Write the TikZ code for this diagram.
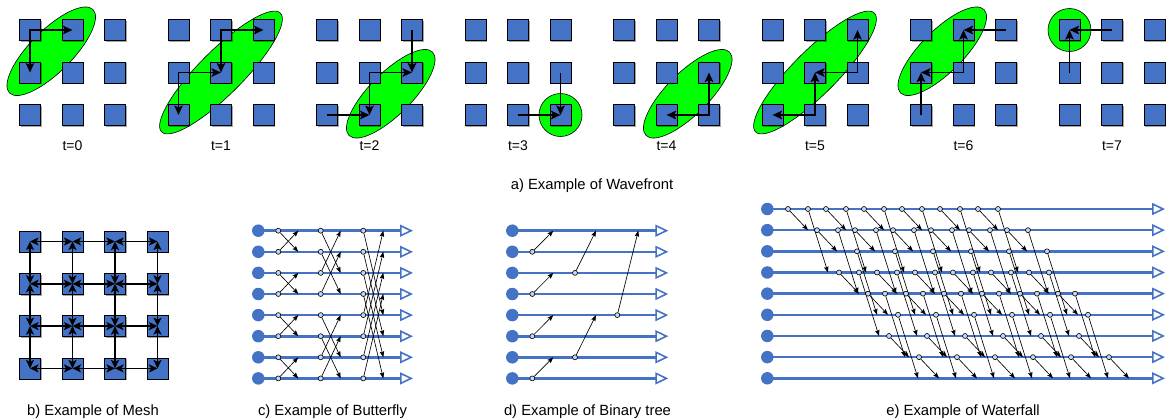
\documentclass[tikz,border=0pt]{standalone}
\usepackage{fontspec}
\setmainfont{Liberation Sans}
\usetikzlibrary{arrows.meta,shapes.geometric,shadows,calc}
\definecolor{sqblue}{RGB}{68,114,196}
\definecolor{wfgreen}{RGB}{0,255,0}
\pgfdeclarelayer{bg}
\pgfsetlayers{bg,main}
\begin{document}
\begin{tikzpicture}[x=1pt,y=-1pt,
  sq/.style={draw=black, line width=0.6pt, fill=sqblue, minimum size=21pt, inner sep=0pt,
     drop shadow={shadow xshift=1.2pt, shadow yshift=-1.2pt, opacity=0.35, fill=black}},
  blob/.style={ellipse, draw=black, line width=0.6pt, fill=wfgreen, inner sep=0pt, rotate=45},
  blobtwo/.style={blob, minimum width=118pt, minimum height=42pt},
  blobthree/.style={blob, minimum width=168pt, minimum height=44pt},
  disc/.style={circle, draw=black, line width=0.6pt, fill=wfgreen, inner sep=0pt, minimum size=43pt},
  warr/.style={line width=1.9pt, -{Stealth[length=9.5pt,width=8.5pt,inset=2pt]}},
  warrb/.style={line width=1.9pt, {Stealth[length=9.5pt,width=8.5pt,inset=2pt]}-{Stealth[length=9.5pt,width=8.5pt,inset=2pt]}},
  marr/.style={line width=1.5pt, {Stealth[length=8.5pt,width=8pt,inset=2pt]}-{Stealth[length=8.5pt,width=8pt,inset=2pt]}},
  bline/.style={draw=sqblue, line width=2.6pt, -{Triangle[open,length=13pt,width=12pt,line width=1.6pt]}},
  bdot/.style={circle, fill=sqblue, inner sep=0pt, minimum size=12.5pt},
  sc/.style={circle, draw=black, line width=0.6pt, fill=sqblue!30!white, inner sep=0pt, minimum size=5pt},
  sarr/.style={line width=0.65pt, -{Stealth[length=6pt,width=4.5pt,inset=1pt]}},
  lbl/.style={font=\fontsize{14}{16}\selectfont, inner sep=0pt, anchor=base},
  captxt/.style={font=\fontsize{14.8}{17}\selectfont, inner sep=0pt, anchor=base}
]
\useasboundingbox (0,0) rectangle (1172,418);

% ---------------- a) Wavefront ----------------
\foreach \p in {0,...,7}{
  \foreach \r in {0,1,2}{
    \foreach \c in {0,1,2}{
      \node[sq] (s\p-\r\c) at ({30+148.5*\p+42.5*\c},{30+42.5*\r}) {};
    }
  }
  \node[lbl] (tl\p) at ({72.5+148.5*\p},150) {t=\p};
}
\begin{pgfonlayer}{bg}
  \node[blobtwo] (e0) at ($(s0-10)!0.5!(s0-01)$) {};
  \node[blobthree] (e1) at (s1-11) {};
  \node[blobtwo] (e2) at ($(s2-21)!0.5!(s2-12)$) {};
  \node[disc] (e3) at (s3-22) {};
  \node[blobtwo] (e4) at ($(s4-21)!0.5!(s4-12)$) {};
  \node[blobthree] (e5) at (s5-11) {};
  \node[blobtwo] (e6) at ($(s6-10)!0.5!(s6-01)$) {};
  \node[disc] (e7) at (s7-00) {};
\end{pgfonlayer}
% t=0
\draw[warrb] (s0-01.center) -- (s0-00.center) -- (s0-10.center);
% t=1
\draw[warrb] (s1-02.center) -- (s1-01.center) -- (s1-11.center);
\draw[warrb] (s1-11.center) -- (s1-10.center) -- (s1-20.center);
% t=2
\draw[warr] (s2-02.center) -- (s2-12.center);
\draw[warrb] (s2-12.center) -- (s2-11.center) -- (s2-21.center);
\draw[warr] (s2-20.center) -- (s2-21.center);
% t=3
\draw[warr] (s3-12.center) -- (s3-22.center);
\draw[warr] (s3-21.center) -- (s3-22.center);
% t=4
\draw[warrb] (s4-21.center) -- (s4-22.center) -- (s4-12.center);
% t=5
\draw[warrb] (s5-02.center) -- (s5-12.center) -- (s5-11.center);
\draw[warrb] (s5-11.center) -- (s5-21.center) -- (s5-20.center);
% t=6
\draw[warr] (s6-02.center) -- (s6-01.center);
\draw[warrb] (s6-01.center) -- (s6-11.center) -- (s6-10.center);
\draw[warr] (s6-20.center) -- (s6-10.center);
% t=7
\draw[warr] (s7-01.center) -- (s7-00.center);
\draw[warr] (s7-10.center) -- (s7-00.center);

\node[captxt] (capa) at (592,189) {a) Example of Wavefront};

% ---------------- b) Mesh ----------------
\foreach \r in {0,...,3}{
  \foreach \c in {0,...,3}{
    \node[sq] (m\r\c) at ({30+42.5*\c},{241.5+42.3*\r}) {};
  }
}
\foreach \a/\b in {0/1,1/2,2/3}{
  \foreach \k in {0,...,3}{
    \draw[marr] (m\k\a.center) -- (m\k\b.center);
    \draw[marr] (m\a\k.center) -- (m\b\k.center);
  }
}
\node[captxt] (capb) at (93,415) {b) Example of Mesh};

% ---------------- c) Butterfly ----------------
\foreach \i in {0,...,7}{
  \node[bdot] (bd\i) at (258.3,{230.7+21.1*\i}) {};
  \coordinate (be\i) at (413,{230.7+21.1*\i});
  \draw[bline] (bd\i.center) -- (be\i);
}
\foreach \s/\xs/\d in {1/278.3/1,2/320.7/2,3/363.3/4}{
  \foreach \i in {0,...,7}{
    \pgfmathtruncatemacro\j{mod(floor(\i/\d),2)==0 ? \i+\d : \i-\d}
    \node[sc] (bc\s\i) at (\xs,{230.7+21.1*\i}) {};
    \coordinate (bt\s\i) at ({\xs+20},{230.7+21.1*\j});
    \draw[sarr] (bc\s\i) -- (bt\s\i);
  }
}
\node[captxt] (capc) at (332.5,415) {c) Example of Butterfly};

% ---------------- d) Binary tree ----------------
\foreach \i in {0,...,7}{
  \node[bdot] (td\i) at (512.3,{230.7+21.1*\i}) {};
  \coordinate (te\i) at (668.3,{230.7+21.1*\i});
  \draw[bline] (td\i.center) -- (te\i);
}
\foreach \s/\xs/\i/\j in {1/532.3/1/0,1/532.3/3/2,1/532.3/5/4,1/532.3/7/6,2/575/2/0,2/575/6/4,3/617.3/4/0}{
  \node[sc] (tc\s\i) at (\xs,{230.7+21.1*\i}) {};
  \coordinate (tt\s\i) at ({\xs+21},{230.7+21.1*\j});
  \draw[sarr] (tc\s\i) -- (tt\s\i);
}
\node[captxt] (capd) at (587.5,415) {d) Example of Binary tree};

% ---------------- e) Waterfall ----------------
\foreach \i in {0,...,8}{
  \node[bdot] (fd\i) at (767.3,{209+21.16*\i}) {};
  \coordinate (fe\i) at (1165,{209+21.16*\i});
  \draw[bline] (fd\i.center) -- (fe\i);
}
\foreach \l/\xs/\t in {0/788/1,0/808/3,1/817/2,1/838/4,2/857/5,3/839/4,3/859/6,4/868/5,4/885/7,5/898/8,6/889/7,7/919/8}{
  \foreach \k in {0,...,5}{
    \node[sc] (fc\l-\xs-\k) at ({\xs+38*\k},{209+21.16*\l}) {};
    \coordinate (ft\l-\xs-\k) at ({\xs+38*\k+20},{209+21.16*\t});
    \draw[sarr] (fc\l-\xs-\k) -- (ft\l-\xs-\k);
  }
}
\node[captxt] (cape) at (963,415) {e) Example of Waterfall};
\end{tikzpicture}
\end{document}
